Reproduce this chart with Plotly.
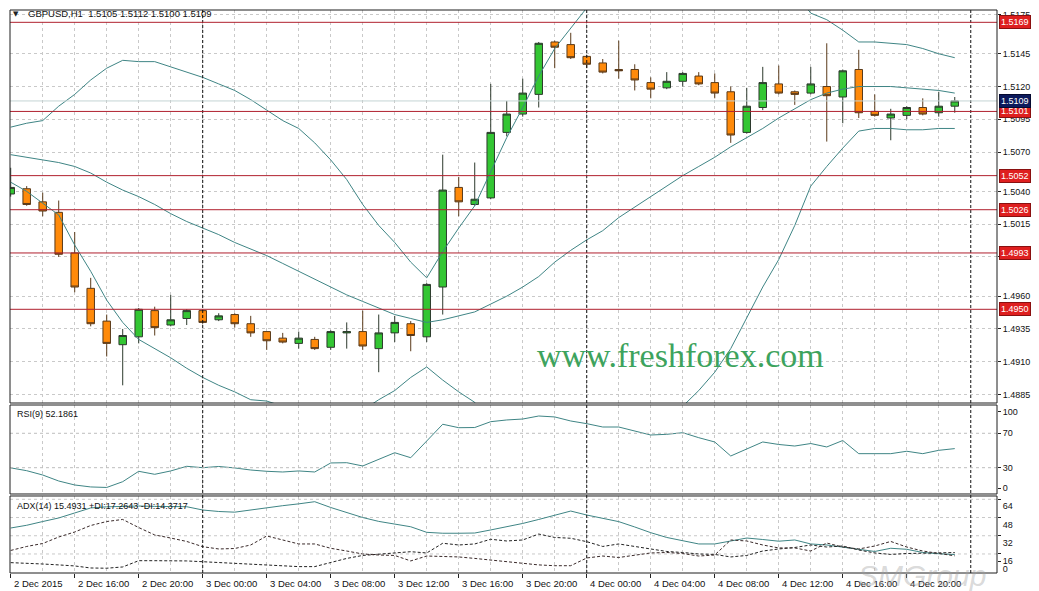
import plotly.graph_objects as go

# ---------------- data ----------------
bars = list(range(60))  # hourly bars, 2 Dec 2015 12:00 .. 4 Dec 2015 23:00

open_ = [1.5038, 1.5042, 1.5032, 1.5024, 1.4993, 1.4966, 1.4941, 1.4923, 1.4929, 1.4949,
         1.4938, 1.4943, 1.4949, 1.4942, 1.4946, 1.4939, 1.4933, 1.4928, 1.4924, 1.4927,
         1.4921, 1.4932, 1.4933, 1.4920, 1.4932, 1.4939, 1.4929, 1.4967, 1.5043, 1.5030,
         1.5035, 1.5085, 1.5099, 1.5114, 1.5154, 1.5152, 1.5143, 1.5138, 1.5133, 1.5133,
         1.5123, 1.5119, 1.5124, 1.5128, 1.5123, 1.5116, 1.5085, 1.5104, 1.5122, 1.5116,
         1.5115, 1.5120, 1.5112, 1.5133, 1.5101, 1.5096, 1.5098, 1.5104, 1.5100, 1.5105]
high = [1.5058, 1.5044, 1.5039, 1.5033, 1.5009, 1.4974, 1.4946, 1.4935, 1.4951, 1.4952,
        1.4961, 1.4950, 1.4950, 1.4947, 1.4947, 1.4945, 1.4933, 1.4932, 1.4933, 1.4929,
        1.4934, 1.4940, 1.4949, 1.4946, 1.4945, 1.4941, 1.4970, 1.5068, 1.5051, 1.5062,
        1.5122, 1.5109, 1.5126, 1.5154, 1.5155, 1.5161, 1.5144, 1.5141, 1.5155, 1.5137,
        1.5127, 1.5131, 1.5131, 1.5131, 1.5130, 1.5120, 1.5119, 1.5135, 1.5136, 1.5117,
        1.5135, 1.5153, 1.5133, 1.5148, 1.5114, 1.5103, 1.5105, 1.5111, 1.5116, 1.5112]
low = [1.5036, 1.5029, 1.5021, 1.4990, 1.4963, 1.4937, 1.4914, 1.4892, 1.4924, 1.4930,
       1.4937, 1.4938, 1.4939, 1.4941, 1.4936, 1.4929, 1.4919, 1.4924, 1.4920, 1.4919,
       1.4919, 1.4920, 1.4919, 1.4902, 1.4925, 1.4918, 1.4925, 1.4946, 1.5021, 1.5029,
       1.5034, 1.5082, 1.5097, 1.5104, 1.5134, 1.5141, 1.5134, 1.5130, 1.5126, 1.5117,
       1.5111, 1.5118, 1.5120, 1.5121, 1.5111, 1.5077, 1.5084, 1.5102, 1.5114, 1.5106,
       1.5114, 1.5078, 1.5092, 1.5096, 1.5097, 1.5079, 1.5095, 1.5098, 1.5097, 1.5100]
close = [1.5043, 1.5030, 1.5025, 1.4992, 1.4967, 1.4939, 1.4924, 1.4930, 1.4950, 1.4936,
         1.4942, 1.4949, 1.4940, 1.4945, 1.4939, 1.4932, 1.4926, 1.4925, 1.4928, 1.4920,
         1.4933, 1.4933, 1.4922, 1.4932, 1.4940, 1.4930, 1.4969, 1.5041, 1.5032, 1.5034,
         1.5085, 1.5099, 1.5115, 1.5153, 1.5150, 1.5142, 1.5137, 1.5131, 1.5132, 1.5125,
         1.5118, 1.5124, 1.5130, 1.5122, 1.5115, 1.5083, 1.5105, 1.5123, 1.5115, 1.5114,
         1.5122, 1.5113, 1.5132, 1.5100, 1.5098, 1.5099, 1.5104, 1.5099, 1.5105, 1.5109]

bb_upper = [1.5089, 1.5092, 1.5094, 1.5105, 1.5114, 1.5125, 1.5134, 1.5140, 1.5139, 1.5139,
            1.5135, 1.5131, 1.5127, 1.5122, 1.5117, 1.5110, 1.5102, 1.5094, 1.5088, 1.5077,
            1.5064, 1.5049, 1.5030, 1.5014, 1.5001, 1.4986, 1.4974, 1.4994, 1.5012, 1.5029,
            1.5055, 1.5081, 1.5104, 1.5128, 1.5149, 1.5165, 1.5180, 1.5195, 1.5205, 1.5213,
            1.5220, 1.5225, 1.5228, 1.5230, 1.5230, 1.5228, 1.5219, 1.5209, 1.5204, 1.5192,
            1.5176, 1.5171, 1.5163, 1.5154, 1.5154, 1.5153, 1.5152, 1.5149, 1.5145, 1.5142]
bb_middle = [1.5068, 1.5066, 1.5064, 1.5062, 1.5059, 1.5054, 1.5047, 1.5041, 1.5036, 1.5030,
             1.5023, 1.5017, 1.5012, 1.5007, 1.5001, 1.4996, 1.4991, 1.4985, 1.4979, 1.4973,
             1.4967, 1.4961, 1.4956, 1.4951, 1.4946, 1.4943, 1.4940, 1.4942, 1.4945, 1.4948,
             1.4954, 1.4960, 1.4967, 1.4975, 1.4986, 1.4995, 1.5003, 1.5010, 1.5020, 1.5028,
             1.5036, 1.5044, 1.5052, 1.5059, 1.5066, 1.5074, 1.5081, 1.5088, 1.5096, 1.5103,
             1.5110, 1.5115, 1.5118, 1.5120, 1.5120, 1.5120, 1.5119, 1.5118, 1.5117, 1.5115]
bb_lower = [1.5047, 1.5040, 1.5031, 1.5022, 1.4999, 1.4979, 1.4957, 1.4940, 1.4927, 1.4920,
            1.4913, 1.4905, 1.4898, 1.4892, 1.4887, 1.4881, 1.4880, 1.4876, 1.4870, 1.4869,
            1.4870, 1.4873, 1.4873, 1.4881, 1.4888, 1.4898, 1.4906, 1.4896, 1.4887, 1.4879,
            1.4853, 1.4839, 1.4830, 1.4822, 1.4823, 1.4825, 1.4826, 1.4825, 1.4835, 1.4843,
            1.4852, 1.4863, 1.4876, 1.4888, 1.4902, 1.4920, 1.4943, 1.4967, 1.4988, 1.5014,
            1.5044, 1.5059, 1.5073, 1.5086, 1.5088, 1.5088, 1.5087, 1.5087, 1.5088, 1.5088]

rsi = [29.8, 26.5, 21.5, 14.5, 9.9, 7.6, 7.0, 13.7, 25.8, 22.3,
       26.2, 31.6, 30.0, 31.4, 29.7, 27.3, 25.8, 25.0, 26.2, 25.0,
       35.5, 35.8, 32.0, 40.1, 47.4, 41.6, 61.0, 80.5, 76.5, 76.7,
       83.5, 85.5, 86.6, 90.1, 89.0, 84.3, 81.2, 77.3, 77.3, 72.7,
       68.0, 68.8, 70.7, 64.9, 59.9, 43.6, 51.4, 59.9, 57.0, 55.2,
       58.1, 54.1, 61.6, 46.3, 46.3, 46.3, 49.1, 46.3, 50.2, 52.1861]

adx = [38.8, 41.2, 44.5, 47.6, 52.0, 56.4, 57.4, 57.8, 58.1, 57.8,
       57.5, 57.5, 54.6, 53.3, 52.7, 54.6, 57.0, 58.4, 60.0, 61.9,
       56.8, 52.4, 48.0, 44.6, 42.3, 39.9, 35.0, 34.2, 34.2, 34.4,
       37.1, 39.9, 42.8, 46.3, 50.2, 53.7, 50.2, 47.3, 44.4, 39.7,
       34.7, 30.5, 27.4, 24.8, 24.8, 27.4, 30.0, 28.7, 27.2, 28.3,
       24.8, 23.9, 22.3, 20.1, 18.2, 21.0, 20.1, 17.3, 16.2, 15.4931]
plus_di = [8.4, 8.1, 7.2, 6.4, 5.5, 3.7, 3.5, 4.6, 10.1, 10.1,
           10.1, 9.9, 9.2, 8.5, 7.7, 6.8, 6.1, 5.5, 4.9, 4.9,
           8.4, 12.1, 14.7, 15.6, 16.9, 18.0, 16.9, 25.4, 23.9, 24.8,
           28.9, 27.4, 28.3, 33.5, 30.5, 29.8, 26.8, 22.6, 24.8, 22.6,
           19.9, 18.2, 17.3, 16.0, 15.6, 13.4, 14.7, 18.6, 20.4, 21.7,
           23.9, 22.1, 23.0, 19.5, 16.9, 15.6, 16.4, 16.9, 17.3, 17.2643]
minus_di = [19.1, 22.6, 25.2, 30.9, 35.3, 41.0, 44.5, 46.3, 39.2, 32.7,
            30.0, 27.0, 22.4, 20.4, 20.8, 23.9, 31.8, 28.3, 24.8, 24.8,
            21.0, 18.6, 16.0, 15.1, 14.7, 9.9, 14.2, 13.8, 13.4, 12.1,
            10.7, 9.0, 7.8, 6.4, 5.7, 5.7, 12.5, 14.2, 12.9, 15.1,
            16.9, 17.3, 16.4, 14.2, 15.1, 28.3, 27.4, 23.9, 21.3, 21.3,
            18.6, 25.6, 22.1, 20.4, 23.0, 27.0, 22.1, 18.6, 16.4, 14.3717]

levels = [1.5169, 1.5101, 1.5052, 1.5026, 1.4993, 1.4950]
last_price = 1.5109
day_breaks = [12, 36, 60]

x_label_pos = [0, 4, 8, 12, 16, 20, 24, 28, 32, 36, 40, 44, 48, 52, 56]
x_labels = ["2 Dec 2015", "2 Dec 16:00", "2 Dec 20:00", "3 Dec 00:00", "3 Dec 04:00",
            "3 Dec 08:00", "3 Dec 12:00", "3 Dec 16:00", "3 Dec 20:00", "4 Dec 00:00",
            "4 Dec 04:00", "4 Dec 08:00", "4 Dec 12:00", "4 Dec 16:00", "4 Dec 20:00"]
x_grid_minor = [2, 6, 10, 14, 18, 22, 26, 30, 34, 38, 42, 46, 50, 54, 58]

price_ticks = [1.5175, 1.5145, 1.5120, 1.5095, 1.5070, 1.5040, 1.5015,
               1.4990, 1.4960, 1.4935, 1.4910, 1.4885]
# MT4 insets the 100 / 0 labels of the indicator windows
rsi_tick_pos = [95, 70, 30, 6]
rsi_tick_text = ["100", "70", "30", "0"]
rsi_levels = [70, 30]
adx_grid = [64, 48, 32, 16]
adx_tick_pos = [64, 48, 32, 16, 9]
adx_tick_text = ["64", "48", "32", "16", "0"]

# ---------------- style ----------------
FONT = "Liberation Sans"
GRID = "#c9c9c9"
FRAME = "#1e1e1e"
BAND = "#3f8585"
LEVEL = "#b0202e"

D_MAIN = [0.30195, 1.0]
D_RSI = [0.14032, 0.29840]
D_ADX = [0.0, 0.13677]
XR = [-0.044, 61.64]

fig = go.Figure()

fig.add_trace(go.Candlestick(
    x=bars, open=open_, high=high, low=low, close=close,
    increasing=dict(fillcolor="#33c633", line=dict(color="#2d3a2d", width=1)),
    decreasing=dict(fillcolor="#ff8a0a", line=dict(color="#5a3a1a", width=1)),
    whiskerwidth=0, xaxis="x", yaxis="y", name="GBPUSD"))

for band in (bb_upper, bb_middle, bb_lower):
    fig.add_trace(go.Scatter(x=bars, y=band, mode="lines",
                             line=dict(color=BAND, width=1), xaxis="x", yaxis="y"))

fig.add_trace(go.Scatter(x=bars, y=rsi, mode="lines", line=dict(color=BAND, width=1),
                         xaxis="x2", yaxis="y2"))

fig.add_trace(go.Scatter(x=bars, y=adx, mode="lines", line=dict(color=BAND, width=1),
                         xaxis="x3", yaxis="y3"))
fig.add_trace(go.Scatter(x=bars, y=plus_di, mode="lines",
                         line=dict(color="#222222", width=1, dash="3px,2px"),
                         xaxis="x3", yaxis="y3"))
fig.add_trace(go.Scatter(x=bars, y=minus_di, mode="lines",
                         line=dict(color="#3a2a2a", width=1, dash="3px,2px"),
                         xaxis="x3", yaxis="y3"))

common_x = dict(range=XR, showgrid=True, gridcolor=GRID, griddash="dot", gridwidth=1,
                tickmode="array", tickvals=x_label_pos, zeroline=False, showline=False,
                rangeslider=dict(visible=False), fixedrange=True, automargin=False,
                minor=dict(tickvals=x_grid_minor, showgrid=True, gridcolor=GRID,
                           griddash="dot", ticks=""))

shapes = []
for d in day_breaks:
    shapes.append(dict(type="line", xref="x", yref="paper", x0=d, x1=d, y0=0, y1=1,
                       line=dict(color="#111111", width=1, dash="3px,2px")))
for lv in levels:
    shapes.append(dict(type="line", xref="x", yref="y", x0=XR[0], x1=XR[1], y0=lv, y1=lv,
                       line=dict(color=LEVEL, width=1)))
shapes.append(dict(type="line", xref="x", yref="y", x0=XR[0], x1=XR[1], y0=last_price,
                   y1=last_price, line=dict(color="#c4d4d4", width=1)))
for lv in rsi_levels:
    shapes.append(dict(type="line", xref="x2", yref="y2", x0=XR[0], x1=XR[1], y0=lv, y1=lv,
                       line=dict(color="#bdbdbd", width=1, dash="3px,3px")))
for lv in adx_grid:
    shapes.append(dict(type="line", xref="x3", yref="y3", x0=XR[0], x1=XR[1], y0=lv, y1=lv,
                       layer="below", line=dict(color=GRID, width=1, dash="3px,3px")))
for dom in (D_MAIN, D_RSI, D_ADX):
    shapes.append(dict(type="rect", xref="paper", yref="paper", x0=0, x1=1,
                       y0=dom[0], y1=dom[1], line=dict(color=FRAME, width=1),
                       fillcolor="rgba(0,0,0,0)", layer="above"))

annotations = []
for pos, lab in zip(x_label_pos, x_labels):
    annotations.append(dict(x=pos, xref="x3", y=0, yref="paper", yanchor="top",
                            xanchor="left", xshift=1, yshift=-3, text=lab,
                            showarrow=False, font=dict(family=FONT, size=9.5, color="#111")))
for lv in levels:
    annotations.append(dict(x=1, xref="paper", y=lv, yref="y", xanchor="left",
                            yanchor="middle", xshift=2, text=f"{lv:.4f}", showarrow=False,
                            font=dict(family=FONT, size=9, color="white"),
                            bgcolor="#de1f1f", bordercolor="#8a1010", borderwidth=1,
                            borderpad=1))
annotations.append(dict(x=1, xref="paper", y=last_price, yref="y", xanchor="left",
                        yanchor="middle", xshift=2, text=f"{last_price:.4f}",
                        showarrow=False, font=dict(family=FONT, size=9, color="white"),
                        bgcolor="#0c1a5c", bordercolor="#050a30", borderwidth=1,
                        borderpad=1))
annotations.append(dict(x=0.0059, xref="paper", y=0.9929, yref="paper", xanchor="center",
                        yanchor="middle", text="▼", showarrow=False,
                        font=dict(family="DejaVu Sans", size=7, color="#222")))
annotations.append(dict(x=0.0159, xref="paper", y=0.9929, yref="paper", xanchor="left",
                        yanchor="middle",
                        text="GBPUSD,H1  1.5105 1.5112 1.5100 1.5109",
                        showarrow=False, font=dict(family=FONT, size=9.5, color="#111")))
annotations.append(dict(x=0.0051, xref="paper", y=0.2824, yref="paper", xanchor="left",
                        yanchor="middle", text="RSI(9) 52.1861", showarrow=False,
                        font=dict(family=FONT, size=9, color="#111")))
annotations.append(dict(x=0.0051, xref="paper", y=0.1195, yref="paper", xanchor="left",
                        yanchor="middle",
                        text="ADX(14) 15.4931 +DI:17.2643 -DI:14.3717",
                        showarrow=False, font=dict(family=FONT, size=9, color="#111")))
annotations.append(dict(x=0.679, xref="paper", y=0.387, yref="paper", xanchor="center",
                        yanchor="middle", text="www.freshforex.com", showarrow=False,
                        font=dict(family="Liberation Serif", size=34, color="#3da35d")))
annotations.append(dict(x=0.924, xref="paper", y=-0.005, yref="paper", xanchor="center",
                        yanchor="middle", text="SMGroup", showarrow=False,
                        font=dict(family=FONT, size=30, color="rgba(160,160,160,0.40)",
                                  style="italic")))

ycommon = dict(side="right", tickmode="array", automargin=False, zeroline=False,
               tickfont=dict(family=FONT, size=9, color="#111"),
               ticks="outside", ticklen=3, tickcolor="#222", fixedrange=True)

fig.update_layout(
    width=1039, height=591,
    margin=dict(l=10, r=42, t=10, b=18, autoexpand=False),
    paper_bgcolor="white", plot_bgcolor="white",
    showlegend=False, boxgap=0.33, hovermode=False,
    xaxis=dict(common_x, anchor="y", showticklabels=False, ticks=""),
    xaxis2=dict(common_x, anchor="y2", matches="x", showticklabels=False, ticks=""),
    xaxis3=dict(common_x, anchor="y3", matches="x", showticklabels=False,
                ticks="outside", ticklen=4, tickcolor="#222"),
    yaxis=dict(ycommon, domain=D_MAIN, range=[1.48785, 1.51784], anchor="x",
               tickvals=price_ticks, ticktext=[f"{t:.4f}" for t in price_ticks],
               showgrid=True, gridcolor=GRID, griddash="dot"),
    yaxis2=dict(ycommon, domain=D_RSI, range=[-0.6, 102.9], anchor="x2",
                tickvals=rsi_tick_pos, ticktext=rsi_tick_text, showgrid=False),
    yaxis3=dict(ycommon, domain=D_ADX, range=[-0.7, 66.9], anchor="x3",
                tickvals=adx_tick_pos, ticktext=adx_tick_text, ticklabelshift=7,
                showgrid=False),
    shapes=shapes, annotations=annotations,
)

fig.write_html("out.html", config={"displayModeBar": False},
               post_script="document.body.style.margin='0';document.body.style.padding='0';")
